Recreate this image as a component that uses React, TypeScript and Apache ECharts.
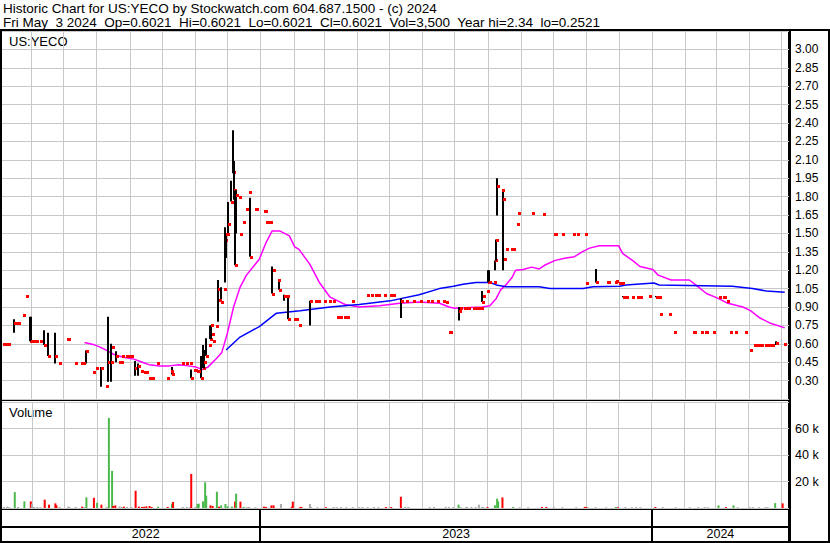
import React, { useEffect, useRef } from 'react';
import * as echarts from 'echarts';

// ---------- data ----------
const titleLine1 = 'Historic Chart for US:YECO by Stockwatch.com 604.687.1500 - (c) 2024';
const titleLine2 = 'Fri May  3 2024  Op=0.6021  Hi=0.6021  Lo=0.6021  Cl=0.6021  Vol=3,500  Year hi=2.34  lo=0.2521';
const symbolLabel = 'US:YECO';
const volumeLabel = 'Volume';
const yearLabels = ['2022', '2023', '2024'];

// days with a price range: [date, high, low, close]
const rangeBars: [string, number, number, number][] = [
  ['2022-05-16', 0.80, 0.69, 0.77],
  ['2022-05-31', 0.82, 0.62, 0.62],
  ['2022-06-01', 0.82, 0.62, 0.62],
  ['2022-06-13', 0.71, 0.59, 0.59],
  ['2022-06-17', 0.69, 0.50, 0.50],
  ['2022-06-23', 0.69, 0.44, 0.50],
  ['2022-07-22', 0.545, 0.44, 0.545],
  ['2022-08-05', 0.41, 0.25, 0.40],
  ['2022-08-12', 0.82, 0.29, 0.45],
  ['2022-08-15', 0.60, 0.29, 0.45],
  ['2022-08-19', 0.54, 0.45, 0.50],
  ['2022-09-06', 0.46, 0.34, 0.40],
  ['2022-09-09', 0.44, 0.34, 0.42],
  ['2022-10-11', 0.41, 0.35, 0.35],
  ['2022-10-28', 0.39, 0.32, 0.32],
  ['2022-11-07', 0.50, 0.32, 0.32],
  ['2022-11-08', 0.59, 0.40, 0.40],
  ['2022-11-09', 0.55, 0.40, 0.45],
  ['2022-11-11', 0.645, 0.50, 0.50],
  ['2022-11-15', 0.75, 0.64, 0.64],
  ['2022-11-16', 0.75, 0.64, 0.75],
  ['2022-11-22', 1.12, 0.78, 1.05],
  ['2022-11-25', 1.06, 0.94, 0.94],
  ['2022-11-29', 1.55, 1.10, 1.45],
  ['2022-11-30', 1.50, 1.30, 1.495],
  ['2022-12-02', 1.755, 1.50, 1.575],
  ['2022-12-05', 1.93, 1.76, 1.76],
  ['2022-12-06', 2.34, 1.99, 2.00],
  ['2022-12-07', 2.09, 1.775, 1.85],
  ['2022-12-08', 1.85, 1.24, 1.24],
  ['2022-12-09', 1.85, 1.50, 1.81],
  ['2022-12-22', 1.79, 1.31, 1.31],
  ['2023-01-12', 1.23, 1.01, 1.01],
  ['2023-01-18', 1.12, 1.04, 1.04],
  ['2023-01-23', 1.00, 0.95, 0.99],
  ['2023-01-27', 0.99, 0.80, 0.80],
  ['2023-02-16', 0.95, 0.75, 0.95],
  ['2023-05-12', 0.97, 0.81, 0.95],
  ['2023-07-05', 0.90, 0.79, 0.87],
  ['2023-07-27', 1.03, 0.94, 0.94],
  ['2023-08-01', 1.20, 1.10, 1.10],
  ['2023-08-02', 1.20, 1.10, 1.10],
  ['2023-08-08', 1.28, 1.20, 1.28],
  ['2023-08-09', 1.45, 1.28, 1.45],
  ['2023-08-10', 1.95, 1.645, 1.89],
  ['2023-08-15', 1.85, 1.20, 1.78],
  ['2023-11-10', 1.21, 1.10, 1.10],
  ['2023-12-05', 0.99, 0.98, 0.985],
  ['2024-01-05', 0.99, 0.98, 0.985],
  ['2024-04-26', 0.62, 0.59, 0.61],
];

// days traded at a single price: [date, price]
const flatTrades: [string, number][] = [
  ['2022-05-06', 0.60], ['2022-05-09', 0.60], ['2022-05-11', 0.60],
  ['2022-05-19', 0.77], ['2022-05-20', 0.77], ['2022-05-25', 0.835], ['2022-05-27', 0.99],
  ['2022-06-03', 0.62], ['2022-06-06', 0.62], ['2022-06-09', 0.62], ['2022-06-27', 0.44],
  ['2022-07-05', 0.64], ['2022-07-06', 0.64], ['2022-07-12', 0.44], ['2022-07-18', 0.44], ['2022-07-20', 0.44],
  ['2022-07-29', 0.37], ['2022-08-01', 0.40], ['2022-08-10', 0.2521], ['2022-08-16', 0.57],
  ['2022-08-22', 0.45], ['2022-08-24', 0.45], ['2022-08-25', 0.50], ['2022-08-29', 0.50], ['2022-08-31', 0.50], ['2022-09-02', 0.50],
  ['2022-09-12', 0.38], ['2022-09-14', 0.37], ['2022-09-16', 0.37],
  ['2022-09-19', 0.32], ['2022-09-21', 0.32], ['2022-09-22', 0.32], ['2022-09-27', 0.44],
  ['2022-10-06', 0.32], ['2022-10-10', 0.38], ['2022-10-20', 0.44], ['2022-10-24', 0.44], ['2022-10-27', 0.44],
  ['2022-10-31', 0.39], ['2022-11-01', 0.39], ['2022-11-03', 0.38], ['2022-11-04', 0.38],
  ['2022-11-14', 0.59], ['2022-11-17', 0.68], ['2022-11-18', 0.62], ['2022-11-21', 0.745],
  ['2022-11-23', 0.96], ['2022-11-28', 1.05], ['2022-12-01', 1.495],
  ['2022-12-12', 1.80], ['2022-12-13', 1.495], ['2022-12-16', 1.59], ['2022-12-19', 1.70], ['2022-12-21', 1.84],
  ['2022-12-27', 1.70], ['2022-12-28', 1.70],
  ['2023-01-04', 1.68], ['2023-01-05', 1.68], ['2023-01-06', 1.59], ['2023-01-09', 1.59], ['2023-01-10', 1.59],
  ['2023-01-13', 1.20], ['2023-01-17', 1.12], ['2023-01-26', 0.99],
  ['2023-02-01', 0.80], ['2023-02-03', 0.80], ['2023-02-06', 0.75],
  ['2023-02-21', 0.95], ['2023-02-24', 0.95], ['2023-03-01', 0.95], ['2023-03-06', 0.95], ['2023-03-10', 0.95],
  ['2023-03-13', 0.82], ['2023-03-16', 0.82], ['2023-03-20', 0.82], ['2023-03-23', 0.82], ['2023-03-27', 0.95],
  ['2023-04-10', 1.00], ['2023-04-14', 1.00], ['2023-04-18', 1.00], ['2023-04-21', 1.00], ['2023-04-26', 1.00],
  ['2023-05-02', 1.00], ['2023-05-05', 1.00],
  ['2023-05-17', 0.95], ['2023-05-23', 0.95], ['2023-05-30', 0.95], ['2023-06-05', 0.95], ['2023-06-09', 0.95],
  ['2023-06-15', 0.95], ['2023-06-20', 0.95], ['2023-06-23', 0.94], ['2023-06-26', 0.70], ['2023-06-27', 0.70],
  ['2023-07-06', 0.895], ['2023-07-10', 0.895], ['2023-07-11', 0.895], ['2023-07-14', 0.895], ['2023-07-18', 0.895],
  ['2023-07-20', 0.895], ['2023-07-21', 0.895], ['2023-07-24', 0.895], ['2023-07-26', 0.895],
  ['2023-07-28', 0.99], ['2023-07-31', 1.03], ['2023-08-07', 1.10], ['2023-08-14', 1.85], ['2023-08-16', 1.29],
  ['2023-08-18', 1.37], ['2023-08-23', 1.37], ['2023-08-24', 1.37], ['2023-08-25', 1.37],
  ['2023-08-28', 1.575], ['2023-08-29', 1.67], ['2023-09-11', 1.67], ['2023-09-22', 1.66],
  ['2023-10-02', 1.495], ['2023-10-03', 1.495], ['2023-10-09', 1.495], ['2023-10-20', 1.495], ['2023-10-23', 1.495], ['2023-10-31', 1.495],
  ['2023-11-01', 1.095], ['2023-11-20', 1.10], ['2023-11-21', 1.10], ['2023-11-28', 1.10], ['2023-11-29', 1.11],
  ['2023-12-01', 1.095], ['2023-12-04', 1.095],
  ['2023-12-08', 0.985], ['2023-12-14', 0.985], ['2023-12-18', 0.985], ['2023-12-19', 0.985], ['2023-12-21', 0.985], ['2023-12-29', 0.99],
  ['2024-01-08', 0.985], ['2024-01-09', 0.84], ['2024-01-17', 0.84], ['2024-01-22', 0.70],
  ['2024-02-08', 0.70], ['2024-02-09', 0.70], ['2024-02-16', 0.70], ['2024-02-20', 0.70], ['2024-02-21', 0.70], ['2024-02-27', 0.70],
  ['2024-03-04', 0.98], ['2024-03-07', 0.98], ['2024-03-08', 0.98], ['2024-03-11', 0.945],
  ['2024-03-14', 0.70], ['2024-03-19', 0.70], ['2024-03-28', 0.70], ['2024-04-02', 0.55],
  ['2024-04-05', 0.59], ['2024-04-08', 0.59], ['2024-04-11', 0.59], ['2024-04-12', 0.59], ['2024-04-16', 0.59],
  ['2024-04-17', 0.59], ['2024-04-19', 0.59], ['2024-04-22', 0.59], ['2024-05-03', 0.6021],
];

// short moving average (magenta)
const maShort: [string, number][] = [
  ['2022-07-21', 0.61], ['2022-07-29', 0.595], ['2022-08-04', 0.575], ['2022-08-12', 0.54], ['2022-08-17', 0.515],
  ['2022-08-26', 0.49], ['2022-09-05', 0.475], ['2022-09-13', 0.45], ['2022-09-19', 0.43], ['2022-09-29', 0.42],
  ['2022-10-08', 0.42], ['2022-10-17', 0.43], ['2022-10-26', 0.42], ['2022-11-02', 0.41], ['2022-11-08', 0.39],
  ['2022-11-13', 0.41], ['2022-11-21', 0.48], ['2022-11-26', 0.53], ['2022-12-01', 0.68], ['2022-12-07', 0.90],
  ['2022-12-13', 1.06], ['2022-12-19', 1.16], ['2022-12-31', 1.29], ['2023-01-06', 1.42], ['2023-01-12', 1.52],
  ['2023-01-19', 1.52], ['2023-01-28', 1.48], ['2023-02-02', 1.39], ['2023-02-06', 1.37], ['2023-02-16', 1.25],
  ['2023-02-25', 1.10], ['2023-03-07', 0.98], ['2023-03-21', 0.92], ['2023-04-03', 0.90], ['2023-04-22', 0.91],
  ['2023-05-11', 0.93], ['2023-05-29', 0.94], ['2023-06-17', 0.93], ['2023-06-26', 0.90], ['2023-07-01', 0.89],
  ['2023-07-27', 0.90], ['2023-08-03', 0.91], ['2023-08-09', 0.97], ['2023-08-13', 1.04], ['2023-08-18', 1.08],
  ['2023-08-24', 1.145], ['2023-08-27', 1.20], ['2023-09-03', 1.205], ['2023-09-11', 1.225], ['2023-09-18', 1.21],
  ['2023-09-23', 1.24], ['2023-10-03', 1.28], ['2023-10-13', 1.30], ['2023-10-21', 1.31], ['2023-10-28', 1.35],
  ['2023-11-04', 1.38], ['2023-11-13', 1.40], ['2023-12-01', 1.40], ['2023-12-05', 1.335], ['2023-12-14', 1.28],
  ['2023-12-21', 1.23], ['2024-01-02', 1.205], ['2024-01-07', 1.16], ['2024-01-19', 1.12], ['2024-02-05', 1.12],
  ['2024-02-11', 1.08], ['2024-02-21', 1.01], ['2024-03-03', 0.97], ['2024-03-12', 0.93], ['2024-03-26', 0.90],
  ['2024-04-02', 0.87], ['2024-04-11', 0.81], ['2024-04-20', 0.77], ['2024-05-04', 0.73],
];

// long moving average (blue)
const maLong: [string, number][] = [
  ['2022-11-30', 0.55], ['2022-12-13', 0.655], ['2022-12-31', 0.74], ['2023-01-16', 0.85], ['2023-02-07', 0.87],
  ['2023-03-07', 0.90], ['2023-04-03', 0.92], ['2023-05-02', 0.95], ['2023-05-29', 1.00], ['2023-06-17', 1.05],
  ['2023-06-30', 1.07], ['2023-07-09', 1.085], ['2023-07-21', 1.10], ['2023-08-03', 1.10], ['2023-08-09', 1.08],
  ['2023-08-18', 1.065], ['2023-09-18', 1.065], ['2023-09-28', 1.05], ['2023-10-29', 1.05], ['2023-11-07', 1.065],
  ['2023-12-02', 1.07], ['2023-12-08', 1.08], ['2024-01-03', 1.095], ['2024-01-08', 1.08], ['2024-03-16', 1.07],
  ['2024-04-04', 1.05], ['2024-04-17', 1.03], ['2024-05-04', 1.02],
];

// volume: [date, shares, direction u=up d=down n=unchanged]
const volumeBars: [string, number, string][] = [
  ['2022-05-06', 800, 'n'], ['2022-05-09', 1000, 'n'], ['2022-05-11', 600, 'n'], ['2022-05-16', 12000, 'u'],
  ['2022-05-19', 800, 'n'], ['2022-05-25', 5000, 'u'], ['2022-05-31', 5000, 'd'], ['2022-06-01', 3000, 'n'],
  ['2022-06-03', 800, 'n'], ['2022-06-06', 800, 'n'], ['2022-06-09', 600, 'n'], ['2022-06-13', 6300, 'd'],
  ['2022-06-17', 2500, 'd'], ['2022-06-23', 3500, 'd'], ['2022-06-24', 2000, 'd'], ['2022-06-27', 800, 'n'],
  ['2022-07-05', 1000, 'n'], ['2022-07-06', 800, 'n'], ['2022-07-12', 800, 'n'], ['2022-07-18', 1000, 'd'],
  ['2022-07-20', 700, 'n'], ['2022-07-22', 8000, 'u'], ['2022-07-29', 7700, 'd'], ['2022-08-01', 4000, 'u'],
  ['2022-08-05', 2500, 'd'], ['2022-08-10', 900, 'n'], ['2022-08-12', 68000, 'u'], ['2022-08-15', 28000, 'u'],
  ['2022-08-16', 1500, 'd'], ['2022-08-18', 2000, 'd'], ['2022-08-22', 1200, 'n'], ['2022-08-24', 800, 'n'],
  ['2022-08-26', 1000, 'd'], ['2022-08-29', 800, 'n'], ['2022-09-02', 800, 'n'], ['2022-09-06', 13000, 'd'],
  ['2022-09-09', 1000, 'd'], ['2022-09-12', 800, 'd'], ['2022-09-14', 900, 'd'], ['2022-09-16', 1200, 'd'],
  ['2022-09-19', 1500, 'd'], ['2022-09-21', 700, 'd'], ['2022-09-27', 1000, 'u'], ['2022-10-06', 800, 'd'],
  ['2022-10-10', 3300, 'u'], ['2022-10-11', 4500, 'd'], ['2022-10-20', 800, 'n'], ['2022-10-24', 700, 'n'],
  ['2022-10-27', 800, 'n'], ['2022-10-28', 25700, 'd'], ['2022-11-01', 800, 'n'], ['2022-11-03', 3000, 'u'],
  ['2022-11-04', 3300, 'u'], ['2022-11-08', 5000, 'u'], ['2022-11-10', 19400, 'u'], ['2022-11-11', 9300, 'u'],
  ['2022-11-15', 2000, 'd'], ['2022-11-17', 1500, 'd'], ['2022-11-21', 12300, 'u'], ['2022-11-23', 1000, 'd'],
  ['2022-11-25', 2000, 'u'], ['2022-11-29', 3000, 'u'], ['2022-12-01', 1200, 'u'], ['2022-12-05', 1000, 'u'],
  ['2022-12-08', 4800, 'd'], ['2022-12-09', 10800, 'u'], ['2022-12-13', 4800, 'd'], ['2022-12-16', 800, 'u'],
  ['2022-12-19', 700, 'n'], ['2022-12-21', 800, 'n'], ['2022-12-27', 600, 'n'],
  ['2023-01-04', 1000, 'd'], ['2023-01-06', 800, 'd'], ['2023-01-11', 2000, 'd'], ['2023-01-13', 2000, 'd'],
  ['2023-01-20', 3000, 'n'], ['2023-01-30', 1000, 'd'], ['2023-01-31', 4800, 'd'], ['2023-02-07', 800, 'd'],
  ['2023-02-08', 800, 'd'], ['2023-02-16', 3000, 'n'], ['2023-02-17', 800, 'n'], ['2023-02-23', 600, 'n'],
  ['2023-03-03', 600, 'd'], ['2023-03-10', 700, 'n'], ['2023-03-13', 600, 'n'], ['2023-03-17', 700, 'n'],
  ['2023-03-22', 600, 'n'], ['2023-03-28', 700, 'n'], ['2023-04-03', 600, 'n'], ['2023-04-06', 700, 'n'],
  ['2023-04-11', 600, 'n'], ['2023-04-17', 700, 'n'], ['2023-04-21', 600, 'n'], ['2023-04-28', 700, 'd'],
  ['2023-05-03', 700, 'd'], ['2023-05-12', 8500, 'd'], ['2023-05-16', 800, 'n'], ['2023-05-19', 800, 'n'],
  ['2023-06-08', 700, 'n'], ['2023-06-12', 700, 'n'], ['2023-06-23', 800, 'n'], ['2023-06-26', 700, 'n'],
  ['2023-06-30', 700, 'n'], ['2023-07-05', 2500, 'u'], ['2023-07-07', 600, 'n'], ['2023-07-12', 800, 'n'],
  ['2023-07-13', 700, 'n'], ['2023-07-17', 800, 'n'], ['2023-07-21', 700, 'n'], ['2023-07-24', 2500, 'n'],
  ['2023-07-27', 800, 'n'], ['2023-07-28', 700, 'n'], ['2023-08-01', 700, 'd'], ['2023-08-08', 2000, 'u'],
  ['2023-08-10', 7000, 'u'], ['2023-08-11', 5000, 'u'], ['2023-08-15', 8000, 'd'], ['2023-08-25', 800, 'u'],
  ['2023-08-31', 600, 'n'], ['2023-09-08', 600, 'n'], ['2023-09-21', 800, 'd'], ['2023-09-25', 800, 'd'],
  ['2023-10-02', 600, 'n'], ['2023-10-10', 600, 'n'], ['2023-10-23', 600, 'n'], ['2023-10-31', 800, 'd'],
  ['2023-11-01', 800, 'd'], ['2023-11-03', 600, 'n'], ['2023-11-10', 700, 'n'], ['2023-11-20', 600, 'n'],
  ['2023-11-29', 800, 'u'], ['2023-12-01', 600, 'd'], ['2023-12-08', 700, 'n'], ['2023-12-14', 600, 'n'],
  ['2023-12-18', 700, 'n'], ['2023-12-22', 600, 'n'],
  ['2024-01-05', 800, 'd'], ['2024-01-12', 600, 'n'], ['2024-01-24', 600, 'n'], ['2024-02-06', 600, 'n'],
  ['2024-02-14', 600, 'n'], ['2024-02-20', 700, 'n'], ['2024-02-23', 600, 'n'], ['2024-03-04', 2000, 'u'],
  ['2024-03-11', 700, 'd'], ['2024-03-18', 2000, 'u'], ['2024-03-22', 600, 'n'], ['2024-04-02', 600, 'n'],
  ['2024-04-05', 700, 'n'], ['2024-04-11', 600, 'n'], ['2024-04-17', 700, 'n'], ['2024-04-19', 600, 'n'],
  ['2024-04-26', 3700, 'u'], ['2024-05-03', 3500, 'd'],
];

// ---------- helpers ----------
const T = (s: string) => {
  const [y, m, d] = s.split('-').map(Number);
  return Date.UTC(y, m - 1, d);
};
const X_MIN = T('2022-05-05');
const X_MAX = T('2024-05-08');
const FIRST_MONTH = T('2022-06-01');

const monthStarts: number[] = [];
{
  let y = 2022, m = 5; // June 2022 (0-based month)
  while (Date.UTC(y, m, 1) < X_MAX) {
    monthStarts.push(Date.UTC(y, m, 1));
    m++;
    if (m > 11) { m = 0; y++; }
  }
}

const FONT = '"Liberation Sans", Arial, sans-serif';
const dirColor: Record<string, string> = { u: '#4cb84c', d: '#ff0000', n: '#aaaaaa' };

const yearSpans = yearLabels.map((y) => {
  const start = Math.max(T(`${y}-01-01`), FIRST_MONTH);
  const end = Math.min(T(`${Number(y) + 1}-01-01`), X_MAX);
  return [start, end, T(`${y}-01-01`) > X_MIN ? 1 : 0];
});

const gridLineSeries = (idx: number) => ({
  type: 'custom',
  xAxisIndex: idx,
  yAxisIndex: idx,
  z: 1,
  silent: true,
  data: monthStarts.map((t) => [t, 1]),
  encode: { x: 0, y: 1 },
  renderItem: (params: any, api: any) => {
    const cs = params.coordSys;
    const x = Math.round(api.coord([api.value(0), 1])[0]) + 0.5;
    return {
      type: 'line',
      shape: { x1: x, y1: cs.y, x2: x, y2: cs.y + cs.height },
      style: { stroke: '#c8c8c8', lineWidth: 1 },
    };
  },
});

const priceData = [
  ...rangeBars.map((r) => [T(r[0]), r[1], r[2], r[3]]),
  ...flatTrades.map((f) => [T(f[0]), f[1], f[1], f[1]]),
];

const rectEl = (x: number, y: number, w: number, h: number) => ({
  type: 'rect',
  shape: { x, y, width: w, height: h },
  style: { fill: '#000' },
  silent: true,
});

const option: any = {
  animation: false,
  backgroundColor: '#ffffff',
  textStyle: { fontFamily: FONT },
  grid: [
    { left: 2, top: 31, width: 787, height: 368 },
    { left: 2, top: 402, width: 787, height: 106 },
    { left: 2, top: 510, width: 787, height: 31 },
  ],
  xAxis: [0, 1, 2].map((i) => ({
    type: 'time',
    gridIndex: i,
    min: X_MIN,
    max: X_MAX,
    axisLabel: { show: false },
    axisLine: { show: false },
    axisTick: { show: false },
    splitLine: { show: false },
  })),
  yAxis: [
    {
      type: 'value',
      gridIndex: 0,
      position: 'right',
      min: 0.15,
      max: 3.15,
      interval: 0.15,
      axisLine: { show: false },
      axisTick: { show: false },
      axisLabel: {
        color: '#000',
        fontSize: 12,
        fontFamily: FONT,
        margin: 6,
        showMinLabel: false,
        showMaxLabel: false,
        formatter: (v: number) => v.toFixed(2),
      },
      splitLine: { lineStyle: { color: '#c8c8c8', width: 1 } },
    },
    {
      type: 'value',
      gridIndex: 1,
      position: 'right',
      min: 0,
      max: 80000,
      interval: 20000,
      axisLine: { show: false },
      axisTick: { show: false },
      axisLabel: {
        color: '#000',
        fontSize: 12.5,
        fontFamily: FONT,
        margin: 6,
        showMinLabel: false,
        showMaxLabel: false,
        formatter: (v: number) => `${Math.round(v / 1000)} k`,
      },
      splitLine: { lineStyle: { color: '#c8c8c8', width: 1 } },
    },
    { type: 'value', gridIndex: 2, min: 0, max: 1, show: false, splitLine: { show: false } },
  ],
  series: [
    gridLineSeries(0),
    gridLineSeries(1),
    {
      type: 'line',
      name: 'MA short',
      xAxisIndex: 0,
      yAxisIndex: 0,
      z: 3,
      data: maShort.map((p) => [T(p[0]), p[1]]),
      symbol: 'none',
      lineStyle: { color: '#ff00ff', width: 1.5 },
      silent: true,
    },
    {
      type: 'line',
      name: 'MA long',
      xAxisIndex: 0,
      yAxisIndex: 0,
      z: 3,
      data: maLong.map((p) => [T(p[0]), p[1]]),
      symbol: 'none',
      lineStyle: { color: '#0000ff', width: 1.5 },
      silent: true,
    },
    {
      type: 'custom',
      name: 'Price',
      xAxisIndex: 0,
      yAxisIndex: 0,
      z: 5,
      data: priceData,
      encode: { x: 0, y: [1, 2, 3] },
      renderItem: (params: any, api: any) => {
        const t = api.value(0);
        const [x, yh] = api.coord([t, api.value(1)]);
        const yl = api.coord([t, api.value(2)])[1];
        const yc = api.coord([t, api.value(3)])[1];
        const xi = Math.round(x);
        const children: any[] = [];
        if (yl - yh > 0.5) {
          children.push({ type: 'rect', shape: { x: xi - 1, y: yh, width: 2, height: yl - yh }, style: { fill: '#000' } });
        }
        children.push({ type: 'rect', shape: { x: xi, y: Math.round(yc) - 1, width: 3, height: 3 }, style: { fill: '#ff0000' } });
        return { type: 'group', children };
      },
    },
    {
      type: 'bar',
      name: 'Volume',
      xAxisIndex: 1,
      yAxisIndex: 1,
      z: 3,
      barWidth: 2,
      data: volumeBars.map((v) => ({ value: [T(v[0]), v[1]], itemStyle: { color: dirColor[v[2]] } })),
    },
    {
      type: 'custom',
      name: 'Years',
      xAxisIndex: 2,
      yAxisIndex: 2,
      z: 5,
      data: yearSpans,
      encode: { x: [0, 1] },
      renderItem: (params: any, api: any) => {
        const cs = params.coordSys;
        const x0 = api.coord([api.value(0), 0])[0];
        const x1 = api.coord([api.value(1), 0])[0];
        const children: any[] = [
          {
            type: 'text',
            x: (x0 + x1) / 2,
            y: cs.y + cs.height - 7,
            style: {
              text: yearLabels[params.dataIndex],
              fill: '#000',
              font: `12.5px ${FONT}`,
              textAlign: 'center',
              textVerticalAlign: 'middle',
            },
          },
        ];
        if (api.value(2) === 1) {
          const xs = api.coord([T(`${yearLabels[params.dataIndex]}-01-01`), 0])[0];
          children.push({ type: 'rect', shape: { x: Math.round(xs) - 1, y: cs.y, width: 2, height: cs.height }, style: { fill: '#000' } });
        }
        return { type: 'group', children };
      },
    },
  ],
  graphic: [
    { type: 'text', left: 3, top: 1, silent: true, style: { text: titleLine1, font: `13.5px ${FONT}`, fill: '#000' } },
    { type: 'text', left: 3, top: 15, silent: true, style: { text: titleLine2, font: `13.5px ${FONT}`, fill: '#000' } },
    { type: 'text', left: 9, top: 35, silent: true, style: { text: symbolLabel, font: `13px ${FONT}`, fill: '#000' } },
    { type: 'text', left: 9, top: 406, silent: true, style: { text: volumeLabel, font: `13px ${FONT}`, fill: '#000' } },
    rectEl(0, 29, 830, 2),
    rectEl(0, 29, 2, 514),
    rectEl(0, 400, 789, 1),
    rectEl(0, 402, 789, 1),
    rectEl(0, 508, 789, 2),
    rectEl(0, 526, 789, 2),
    rectEl(0, 541, 830, 2),
    rectEl(788, 29, 3, 514),
    rectEl(828, 29, 2, 514),
  ],
};

export default function App() {
  const ref = useRef<HTMLDivElement>(null);
  useEffect(() => {
    if (!ref.current) return;
    const chart = echarts.init(ref.current, null, { renderer: 'svg' });
    chart.setOption(option);
    return () => chart.dispose();
  }, []);
  return (
    <div
      ref={ref}
      style={{ position: 'absolute', left: 0, top: 0, width: 830, height: 543, background: '#fff' }}
    />
  );
}
